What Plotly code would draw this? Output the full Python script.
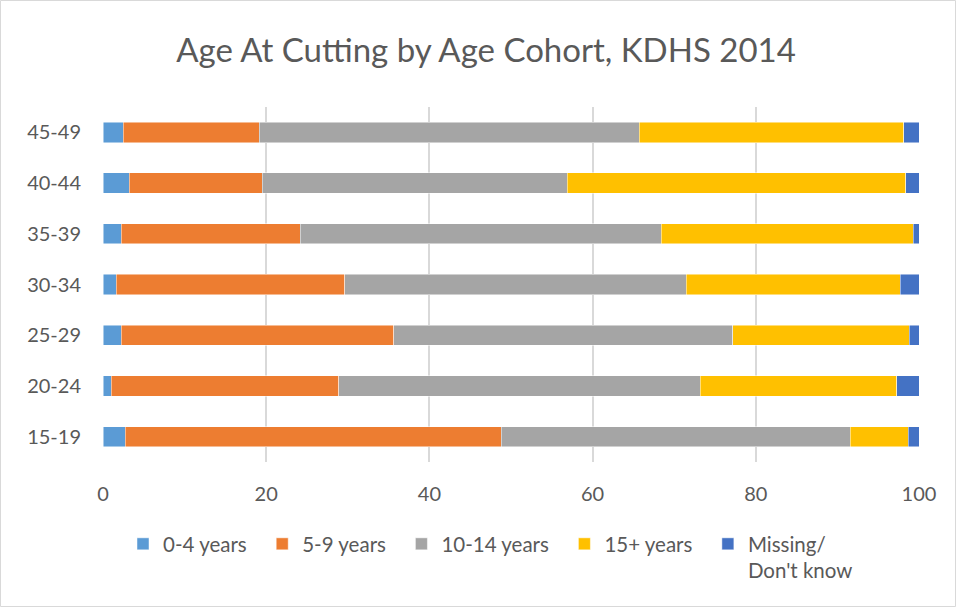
import plotly.graph_objects as go

cohorts = ["15-19", "20-24", "25-29", "30-34", "35-39", "40-44", "45-49"]
age_0_4 = [2.7, 1.0, 2.25, 1.6, 2.25, 3.2, 2.5]
age_5_9 = [46.1, 27.9, 33.4, 28.0, 21.95, 16.3, 16.65]
age_10_14 = [42.8, 44.3, 41.55, 41.9, 44.2, 37.4, 46.55]
age_15p = [7.1, 24.1, 21.6, 26.2, 30.9, 41.5, 32.4]
missing = [1.3, 2.7, 1.2, 2.3, 0.7, 1.8, 1.9]

series_names = ["0-4 years", "5-9 years", "10-14 years", "15+ years", "Missing/<br>Don't know"]
series_values = [age_0_4, age_5_9, age_10_14, age_15p, missing]
colors = ["#5B9BD5", "#ED7D31", "#A5A5A5", "#FFC000", "#4472C4"]
x_ticks = [0, 20, 40, 60, 80, 100]

FONT = "Lato"
TXT = "#595959"
PAD = "\u00a0\u00a0"

fig = go.Figure()
for i, (name, vals, col) in enumerate(zip(series_names, series_values, colors)):
    label = name + (PAD if i < len(series_names) - 1 else "")
    fig.add_trace(go.Bar(
        y=cohorts, x=vals, name=label, orientation="h",
        marker=dict(color=col, line=dict(color="rgba(255,255,255,0.6)", width=0.8)),
    ))

L, R, T, B = 103, 37, 107, 145
W, H = 956, 607
pw, ph = W - L - R, H - T - B

fig.update_layout(
    width=W, height=H,
    barmode="stack", bargap=0.6,
    plot_bgcolor="white", paper_bgcolor="white",
    margin=dict(l=L, r=R, t=T, b=B, autoexpand=False),
    font=dict(family=FONT, color=TXT, size=20),
    title=dict(text="Age At Cutting by Age Cohort, KDHS 2014", x=486 / W, xanchor="center",
               y=1 - 50 / H, yanchor="middle", font=dict(size=33, color=TXT, family=FONT)),
    xaxis=dict(range=[0, 100], tickvals=x_ticks, showgrid=True, gridcolor="#D9D9D9", gridwidth=1.5,
               zeroline=False, showline=False, ticks="", ticklabelstandoff=18,
               tickfont=dict(size=20, color=TXT)),
    yaxis=dict(categoryorder="array", categoryarray=cohorts, showgrid=False, zeroline=False,
               showline=False, ticks="", ticklabelstandoff=21, tickfont=dict(size=20, color=TXT)),
    legend=dict(orientation="h", x=(137 - 14 - L) / pw, xanchor="left", y=-(524 - T - ph) / ph,
                yanchor="top", font=dict(size=20.5, color=TXT), traceorder="normal",
                valign="top", itemclick=False),
    shapes=[dict(type="rect", xref="paper", yref="paper",
                 x0=(0.5 - L) / pw, x1=(W - 0.5 - L) / pw,
                 y0=(T + ph - (H - 0.5)) / ph, y1=(T + ph - 0.5) / ph,
                 line=dict(color="#D9D9D9", width=1), layer="below")],
)
fig.write_html("out.html", config={"displayModeBar": False},
               post_script="document.body.style.margin='0';document.body.style.overflow='hidden';")
